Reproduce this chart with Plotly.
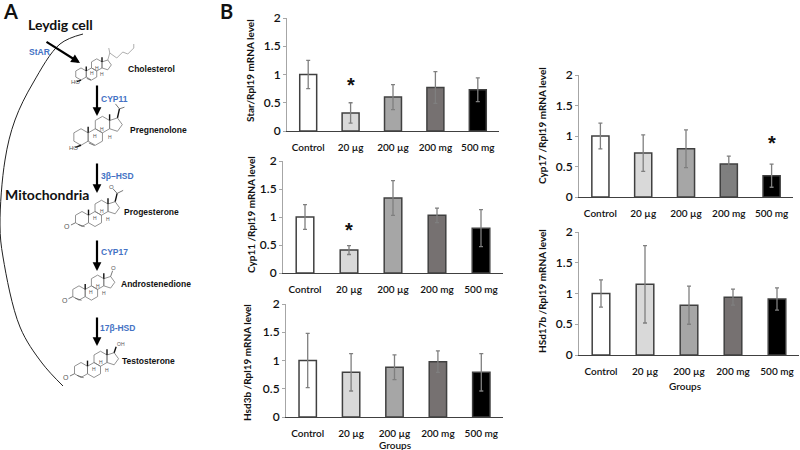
import math
import plotly.graph_objects as go

W, H = 800, 450

groups = ['Control', '20 µg', '200 µg', '200 mg', '500 mg']
bar_colors = ['#ffffff', '#d9d9d9', '#a6a6a6', '#767171', '#000000']
cyp17_colors = ['#ffffff', '#d9d9d9', '#a6a6a6', '#7f7f7f', '#000000']
y_ticks = [0, 0.5, 1, 1.5, 2]
y_ticktext = ['0', '0.5', '1', '1.5', '2']

star_values = [1.0, 0.32, 0.6, 0.77, 0.73]
star_errors = [0.25, 0.18, 0.22, 0.28, 0.21]
cyp11_values = [1.0, 0.41, 1.34, 1.03, 0.8]
cyp11_errors = [0.22, 0.08, 0.31, 0.13, 0.33]
hsd3b_values = [1.0, 0.79, 0.88, 0.98, 0.79]
hsd3b_errors = [0.48, 0.33, 0.22, 0.19, 0.33]
cyp17_values = [1.0, 0.72, 0.79, 0.54, 0.35]
cyp17_errors = [0.21, 0.3, 0.31, 0.13, 0.19]
hsd17b_values = [1.0, 1.15, 0.81, 0.94, 0.91]
hsd17b_errors = [0.22, 0.63, 0.31, 0.13, 0.18]

# title, values, errors, colours, box in pixels (left, right, top, bottom), star group, star height, title x, title y
panels = [
    ('Star/Rpl19 mRNA level', star_values, star_errors, bar_colors, (287, 499, 18, 131), '20 µg', 0.88, 250, 71),
    ('Cyp11 /Rpl19 mRNA level', cyp11_values, cyp11_errors, bar_colors, (283, 503, 161, 273), '20 µg', 0.84, 251, 215),
    ('Hsd3b /Rpl19 mRNA level', hsd3b_values, hsd3b_errors, bar_colors, (286, 503, 304, 417), None, 0, 247, 363),
    ('Cyp17 /Rpl19 mRNA level', cyp17_values, cyp17_errors, cyp17_colors, (579, 793, 75, 197), '500 mg', 0.95, 542, 126),
    ('HSd17b /Rpl19 mRNA level', hsd17b_values, hsd17b_errors, bar_colors, (579, 799, 232, 355), None, 0, 542, 291),
]
group_titles = [(395, 445), (685, 386)]

# pathway labels on panel A: text, left x, y
compounds = [('Cholesterol', 126, 69), ('Pregnenolone', 128, 130), ('Progesterone', 122, 212),
             ('Androstenedione', 119, 284), ('Testosterone', 120, 361)]
enzymes = [('StAR', 27, 52), ('CYP11', 99, 99), ('3β–HSD', 99, 176), ('CYP17', 99, 252), ('17β-HSD', 98, 328)]
arrows = [(45, 41, 80, 63), (97, 84, 97, 116), (97, 162, 97, 193), (97, 239, 97, 271), (97, 316, 97, 346)]

# membrane curve
curve_x = [83, 60, 33, 15, 5, 0, 3, 20, 42, 63]
curve_y = [34, 44, 83, 120, 160, 225, 257, 327, 363, 386]

# steroid drawings: ring A centre x, y, ring width, kind
molecules = [(81, 74, 10.5, 'cholesterol'), (81, 137, 14.3, 'pregnenolone'), (82, 219, 13, 'progesterone'),
             (79, 293, 12.4, 'androstenedione'), (81, 370, 13, 'testosterone')]

TICK_FONT = dict(family='Lato', size=10, color='#111111', weight=600)

fig = go.Figure()
layout_axes = {}
annotations = []
pa = dict(xref='x6', yref='y6')

for i, (title, values, errors, colors, box, star_group, star_y, title_x, title_y) in enumerate(panels):
    n = '' if i == 0 else str(i + 1)
    left, right, top, bottom = box
    fig.add_trace(go.Bar(x=groups, y=values, xaxis='x' + n, yaxis='y' + n, width=0.4,
                         marker=dict(color=colors, line=dict(color='#404040', width=1.5)),
                         error_y=dict(type='data', array=errors, color='#7f7f7f', thickness=1.3, width=2),
                         showlegend=False, hoverinfo='skip'))
    layout_axes['xaxis' + n] = dict(domain=[left / W, right / W], anchor='y' + n, type='category',
                                    range=[-0.5, 4.5], showgrid=False, ticks='outside', ticklen=7, tickcolor='white',
                                    tickfont=TICK_FONT, automargin=False,
                                    showline=True, linecolor='#404040', linewidth=1, zeroline=False)
    layout_axes['yaxis' + n] = dict(domain=[1 - bottom / H, 1 - top / H], anchor='x' + n, range=[0, 2],
                                    tickvals=y_ticks, ticktext=y_ticktext, showgrid=False, zeroline=False,
                                    ticks='outside', ticklen=3, tickcolor='#a6a6a6', showline=True, automargin=False,
                                    linecolor='#a6a6a6', linewidth=1, tickfont=dict(family='Lato', size=12, color='#111111', weight=600))
    annotations.append(dict(x=title_x, y=title_y, text=title, textangle=-90, showarrow=False,
                            font=dict(family='Lato', size=10, color='#111111', weight=700), **pa))
    if star_group:
        annotations.append(dict(x=star_group, y=star_y, xref='x' + n, yref='y' + n, text='*', showarrow=False,
                                font=dict(family='Liberation Sans', size=20, color='#111111', weight=700), yshift=-4))

for x, y in group_titles:
    annotations.append(dict(x=x, y=y, text='Groups', showarrow=False, font=TICK_FONT, **pa))

# full canvas axes for the pathway on panel A, in pixels
layout_axes['xaxis6'] = dict(domain=[0, 1], range=[0, W], anchor='y6', visible=False, fixedrange=True)
layout_axes['yaxis6'] = dict(domain=[0, 1], range=[H, 0], anchor='x6', visible=False, fixedrange=True)


def draw(xs, ys, color='#777777', width=0.8):
    fig.add_trace(go.Scatter(x=xs, y=ys, xaxis='x6', yaxis='y6', mode='lines', showlegend=False, hoverinfo='skip',
                             line=dict(color=color, width=width)))


def ring(cx, cy, r, sides, start):
    xs = [cx + r * math.cos(math.radians(start + 360 / sides * k)) for k in range(sides + 1)]
    ys = [cy + r * math.sin(math.radians(start + 360 / sides * k)) for k in range(sides + 1)]
    return xs, ys


def small(text, x, y, size=6, color='#555555'):
    annotations.append(dict(x=x, y=y, text=text, showarrow=False, font=dict(family='Liberation Sans', size=size, color=color), **pa))


def steroid(x0, y0, w, kind):
    r = w / math.sqrt(3)
    centres = [(x0, y0), (x0 + w, y0), (x0 + 1.5 * w, y0 - 1.5 * r)]
    for cx, cy in centres:
        xs, ys = ring(cx, cy, r, 6, 30)
        draw(xs, ys)
    # five membered ring on the vertical edge of ring C
    pr = r * 0.5 / math.sin(math.radians(36))
    px = x0 + 2 * w + pr * math.cos(math.radians(36))
    py = y0 - 1.5 * r
    xs, ys = ring(px, py, pr, 5, 144)
    draw(xs, ys)
    # angular methyls
    draw([x0 + w / 2, x0 + w / 2], [y0 - r / 2, y0 - r * 1.25], '#111111', 1.4)
    draw([x0 + 2 * w, x0 + 2 * w], [py - r / 2, py - r * 1.25], '#111111', 1.4)
    # ring H labels
    small('H', x0 + w, y0 - r * 0.1, 5)
    small('H', x0 + 1.5 * w, y0 - r, 5)
    small('H', x0 + 2 * w, y0 - r * 0.1 + 1, 5)
    hx = x0 - w / 2
    hy = y0 + r / 2
    if kind in ('pregnenolone', 'cholesterol'):
        draw([x0 + w * 0.55, x0 + w * 0.95], [y0 + r * 0.72, y0 + r * 0.72 + w * 0.18], '#555555', 0.8)
        # 3-hydroxy with wedge
        draw([hx + w * 0.5, hx + w * 0.1], [y0 + r, y0 + r * 1.25], '#111111', 1.4)
        small('HO', hx - w * 0.05, y0 + r * 1.35, 6)
    else:
        draw([x0 - w * 0.3, x0 + w * 0.2], [y0 + r * 0.72, y0 + r * 1.02], '#555555', 0.8)
        # 3-keto
        draw([hx, hx - w * 0.35], [hy, hy + r * 0.3], '#555555', 0.8)
        small('O', hx - w * 0.62, hy + r * 0.5, 7)
    # top of the five membered ring (C17)
    tx, ty = px + pr * math.cos(math.radians(-72)), py + pr * math.sin(math.radians(-72))
    if kind == 'cholesterol':
        chain_x = [tx, tx + 2, tx + 9, tx + 15, tx + 20, tx + 26, tx + 26]
        chain_y = [ty, ty - 7, ty - 2, ty - 8, ty - 6, ty - 12, ty - 16]
        draw(chain_x, chain_y, '#999999', 0.8)
        draw([tx + 2, tx + 1], [ty - 7, ty - 12], '#999999', 0.8)
    elif kind == 'pregnenolone':
        draw([tx, tx + 2], [ty, ty - r * 1.1], '#111111', 1.4)
        draw([tx + 2, tx + 7], [ty - r * 1.1, ty - r * 1.3], '#555555', 0.8)
        draw([tx + 2, tx - 2], [ty - r * 1.1, ty - r * 1.7], '#555555', 0.8)
    elif kind == 'progesterone':
        draw([tx, tx + 2], [ty, ty - r * 1.1], '#111111', 1.4)
        draw([tx + 2, tx + 8], [ty - r * 1.1, ty - r * 1.5], '#555555', 0.8)
        draw([tx + 2, tx - 2], [ty - r * 1.1, ty - r * 1.7], '#555555', 0.8)
        small('O', tx - 4, ty - r * 1.9, 6)
    elif kind == 'androstenedione':
        draw([tx, tx + 2], [ty, ty - r * 0.8], '#555555', 0.8)
        small('O', tx + 3, ty - r * 1.2, 6)
    else:
        draw([tx, tx + 2], [ty, ty - r * 0.8], '#111111', 1.4)
        small('OH', tx + 7, ty - r * 1.2, 5)


draw(curve_x, curve_y, '#222222', 1)
fig.data[-1].line.shape = 'spline'

for x0, y0, w, kind in molecules:
    steroid(x0, y0, w, kind)

for x0, y0, x1, y1 in arrows:
    annotations.append(dict(x=x1, y=y1, ax=x0, ay=y0, axref='x6', ayref='y6', text='', showarrow=True,
                            arrowhead=2, arrowsize=0.8, arrowwidth=2.2, arrowcolor='#000000', **pa))

for text, x, y in compounds:
    annotations.append(dict(x=x, y=y, text=text, showarrow=False, xanchor='left',
                            font=dict(family='Liberation Sans', size=8.5, color='#111111', weight=700), **pa))
for text, x, y in enzymes:
    annotations.append(dict(x=x, y=y, text=text, showarrow=False, xanchor='left',
                            font=dict(family='Liberation Sans', size=8.5, color='#4472c4', weight=700), **pa))

annotations.append(dict(x=60, y=24, text='Leydig cell', showarrow=False, font=dict(family='Lato', size=14, color='#111111', weight=700), **pa))
annotations.append(dict(x=47, y=194, text='Mitochondria', showarrow=False, font=dict(family='Lato', size=14, color='#111111', weight=700), **pa))
annotations.append(dict(x=10, y=11, text='A', showarrow=False, font=dict(family='Lato', size=20, color='#111111', weight=700), **pa))
annotations.append(dict(x=226, y=11, text='B', showarrow=False, font=dict(family='Lato', size=20, color='#111111', weight=700), **pa))

fig.update_layout(width=W, height=H, margin=dict(l=0, r=0, t=0, b=0), plot_bgcolor='rgba(0,0,0,0)', paper_bgcolor='white',
                  annotations=annotations, **layout_axes)

# the page body has a default margin, drop it so the figure fills the window
fig.write_html("out.html", config={'displayModeBar': False}, post_script='document.body.style.margin="0";')
